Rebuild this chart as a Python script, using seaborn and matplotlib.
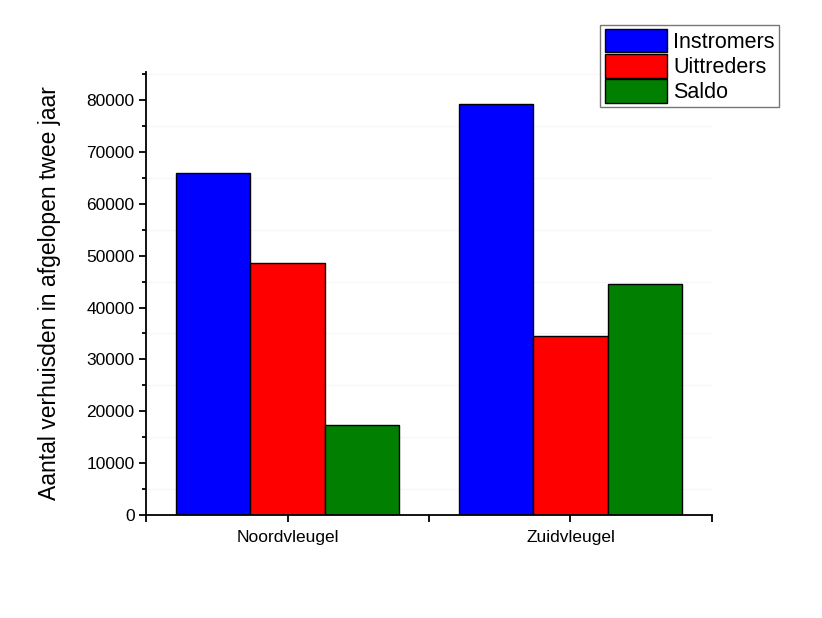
import matplotlib
matplotlib.use("Agg")
import matplotlib.pyplot as plt
from matplotlib.ticker import MultipleLocator, FixedLocator
import seaborn as sns
import pandas as pd

categories = ["Noordvleugel", "Zuidvleugel"]
series = ["Instromers", "Uittreders", "Saldo"]
instromers = [66000, 79200]
uittreders = [48600, 34500]
saldo = [17400, 44600]
colors = ["#0000FF", "#FF0000", "#007F00"]

rows = []
for name, vals in zip(series, [instromers, uittreders, saldo]):
    for c, v in zip(categories, vals):
        rows.append({"cat": c, "series": name, "value": v})
df = pd.DataFrame(rows)

sns.set_style("ticks")
plt.rcParams['font.family'] = ['Liberation Sans', 'DejaVu Sans']
plt.rcParams['text.color'] = 'black'

fig = plt.figure(figsize=(8.22, 6.18), dpi=100)
ax = fig.add_axes([0.178, 0.167, 0.688, 0.716])

sns.barplot(data=df, x="cat", y="value", hue="series", order=categories,
            hue_order=series, palette=colors, width=0.79, edgecolor="black",
            linewidth=1.0, saturation=1, ax=ax, legend=True)

ax.set_xlim(-0.5, 1.5)
ax.set_ylim(0, 85400)
ax.yaxis.set_major_locator(MultipleLocator(10000))
ax.yaxis.set_minor_locator(MultipleLocator(5000))
ax.xaxis.set_minor_locator(FixedLocator([-0.5, 0.5, 1.5]))
ax.grid(which="minor", axis="y", color="#f6f6f6", linewidth=0.8)
ax.set_axisbelow(True)
for s in ["top", "right"]:
    ax.spines[s].set_visible(False)
for s in ["left", "bottom"]:
    ax.spines[s].set_color("black")
    ax.spines[s].set_linewidth(1.3)
ax.tick_params(axis="both", which="both", direction="out", length=5, width=1.3,
               colors="black", labelsize=12.5, left=True, bottom=True)
ax.tick_params(axis="y", which="minor", length=3)
ax.tick_params(axis="x", which="minor", length=5)
ax.tick_params(axis="x", pad=6)
ax.set_xlabel("")
ax.set_ylabel("Aantal verhuisden in afgelopen twee jaar", fontsize=16.5,
              labelpad=18, color="black")

ax.legend_.remove()
handles, labels = ax.get_legend_handles_labels()
leg = fig.legend(handles, labels, loc="upper right", bbox_to_anchor=(0.948, 0.96),
                 fontsize=15.5, frameon=True, fancybox=False, edgecolor="#555555",
                 handlelength=2.9, handleheight=1.3, labelspacing=0.05,
                 handletextpad=0.3, borderpad=0.2, borderaxespad=0,
                 labelcolor="black")
leg.get_frame().set_linewidth(1.0)

fig.savefig("out.png", dpi=100)
